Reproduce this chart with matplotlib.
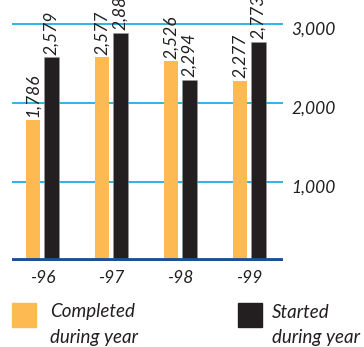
import numpy as np
import matplotlib.pyplot as plt
from matplotlib.patches import Rectangle
from matplotlib.transforms import blended_transform_factory

plt.rcParams['font.family'] = ['Lato', 'DejaVu Sans']
plt.rcParams['font.style'] = 'italic'

# data
years = ["-96", "-97", "-98", "-99"]
completed = [1786, 2577, 2526, 2277]
started = [2579, 2886, 2294, 2773]
completed_labels = ["1,786", "2,577", "2,526", "2,277"]
started_labels = ["2,579", "2,886", "2,294", "2,773"]
grid_vals = [1000, 2000, 3000]
grid_labels = ["1,000", "2,000", "3,000"]

c_orange = "#FDBA52"
c_black = "#231F20"
c_grid = "#2BB5E5"
c_base = "#1B4F96"
c_text = "#231F20"

W, H = 364, 347
fig = plt.figure(figsize=(W / 100, H / 100), dpi=100)
ax = fig.add_axes([12 / W, (H - 260.5) / H, (283 - 12) / W, 260.5 / H])

x = np.arange(len(years))
bw = 0.21
off = 0.134

for v in grid_vals:
    ax.axhline(v, color=c_grid, lw=1.4, zorder=1)

ax.bar(x - off, completed, width=bw, color=c_orange, zorder=2)
ax.bar(x + off, started, width=bw, color=c_black, zorder=2,
       edgecolor="#9a9a9a", linewidth=0.4)
ax.axhline(0, color=c_base, lw=4.2, zorder=3)

# value labels above bars
for xs, vals, labs in [(x - off, completed, completed_labels),
                       (x + off, started, started_labels)]:
    for xi, v, s in zip(xs, vals, labs):
        ax.annotate(s, (xi, v), xytext=(0, 2), textcoords="offset points",
                    rotation=90, ha="center", va="bottom", fontsize=12.5,
                    color=c_text, annotation_clip=False)

# right-hand value labels
for v, s in zip(grid_vals, grid_labels):
    ax.annotate(s, xy=(1, v), xycoords=("axes fraction", "data"),
                xytext=(6, -4), textcoords="offset points",
                ha="left", va="center", fontsize=12.5, color=c_text,
                annotation_clip=False)

# year labels
tr = blended_transform_factory(ax.transData, fig.transFigure)
for xi, s in zip(x, years):
    ax.text(xi, 1 - 278 / H, s, transform=tr, ha="center", va="center",
            fontsize=12.5, color=c_text)

ax.set_xlim(-0.44, 3.49)
ax.set_ylim(0, 3306)
ax.axis("off")

# legend
fig.patches.append(Rectangle((12 / W, 1 - 327 / H), 24 / W, 24 / H,
                             transform=fig.transFigure, color=c_orange))
fig.patches.append(Rectangle((238 / W, 1 - 327 / H), 24 / W, 24 / H,
                             transform=fig.transFigure, color=c_black))
fig.text(50 / W, 1 - 312 / H, "Completed", fontsize=13.5, va="center", color=c_text)
fig.text(50 / W, 1 - 338 / H, "during year", fontsize=13.5, va="center", color=c_text)
fig.text(272 / W, 1 - 312 / H, "Started", fontsize=13.5, va="center", color=c_text)
fig.text(272 / W, 1 - 338 / H, "during year", fontsize=13.5, va="center", color=c_text)

fig.savefig("out.png", dpi=100)
